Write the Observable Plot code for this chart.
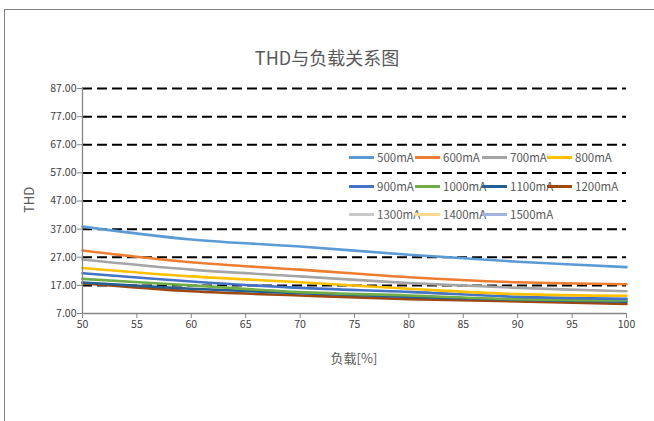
<!DOCTYPE html>
<html>
<head>
<meta charset="utf-8">
<script src="https://cdn.jsdelivr.net/npm/d3@7"></script>
<script src="https://cdn.jsdelivr.net/npm/@observablehq/plot@0.6"></script>
<style>
  html, body { margin: 0; padding: 0; background: #fff; }
  #wrap { position: relative; width: 654px; height: 421px; overflow: hidden;
          font-family: "Noto Sans CJK SC", "Noto Sans", sans-serif; color: #595959; }
  #frame { position: absolute; left: 4px; top: 9px; width: 660px; height: 430px;
           border-top: 1.5px solid #7f7f7f; border-left: 1.5px solid #7f7f7f; }
  #title { position: absolute; left: 0; width: 654px; top: 44px; text-align: center; font-size: 18px; }
  #xlabel { position: absolute; left: 82px; width: 544px; top: 348px; text-align: center; font-size: 13px; }
  #ylabel { position: absolute; left: 28px; top: 200px; font-size: 13px;
            transform: translate(-50%, -50%) rotate(-90deg); white-space: nowrap; }
  #chart { position: absolute; left: 0; top: 0; }
  #legend { position: absolute; left: 349px; top: 149px; width: 270px; font-size: 11.5px; }
  .item { position: absolute; display: flex; align-items: center; white-space: nowrap; }
  .sw { width: 25px; height: 3px; margin-right: 3px; }
</style>
</head>
<body>
<div id="wrap">
  <div id="frame"></div>
  <div id="chart"></div>
  <div id="title">THD与负载关系图</div>
  <div id="xlabel">负载[%]</div>
  <div id="ylabel">THD</div>
  <div id="legend"></div>
</div>
<script>
const loads = [50, 60, 70, 80, 90, 100];
const seriesNames = ["500mA","600mA","700mA","800mA","900mA","1000mA","1100mA","1200mA","1300mA","1400mA","1500mA"];
const seriesColors = ["#5B9BD5","#ED7D31","#A5A5A5","#FFC000","#4472C4","#70AD47","#255E91","#9E480E","#C9C9C9","#FFD98F","#A3B3E0"];
const thd500mA  = [37.9, 33.3, 30.8, 27.9, 25.4, 23.5];
const thd600mA  = [29.4, 25.2, 22.6, 19.9, 18.1, 17.4];
const thd700mA  = [26.2, 22.6, 20.2, 17.8, 16.1, 14.9];
const thd800mA  = [23.2, 20.2, 18.1, 15.8, 13.9, 13.3];
const thd900mA  = [21.3, 18.4, 16.1, 14.7, 12.9, 12.2];
const thd1000mA = [19.3, 17.0, 14.6, 13.4, 12.1, 11.6];
const thd1100mA = [18.0, 15.8, 14.2, 12.9, 11.9, 11.2];
const thd1200mA = [17.8, 14.9, 13.4, 12.1, 11.3, 10.4];
const thd1300mA = [];
const thd1400mA = [];
const thd1500mA = [];
const xTicks = [50, 55, 60, 65, 70, 75, 80, 85, 90, 95, 100];
const yTicks = [7, 17, 27, 37, 47, 57, 67, 77, 87];
const gridValues = [17, 27, 37, 47, 57, 67, 77, 87];

const allSeries = [thd500mA, thd600mA, thd700mA, thd800mA, thd900mA, thd1000mA, thd1100mA, thd1200mA, thd1300mA, thd1400mA, thd1500mA];
const data = [];
allSeries.forEach((vals, i) => vals.forEach((v, j) => data.push({series: seriesNames[i], load: loads[j], thd: v})));
const drawOrder = seriesNames.slice().reverse();

const axisColor = "#868686";
const chart = Plot.plot({
  width: 654, height: 421,
  marginLeft: 82, marginRight: 28, marginTop: 88, marginBottom: 108,
  style: {fontFamily: '"Noto Sans CJK SC", "Noto Sans", sans-serif', fontSize: "10.5px", color: "#595959", background: "transparent"},
  x: {domain: [50, 100]},
  y: {domain: [7, 87]},
  color: {domain: seriesNames, range: seriesColors},
  marks: [
    Plot.ruleY(gridValues, {stroke: "#000", strokeWidth: 2, strokeDasharray: "10,5"}),
    ...drawOrder.map(name => Plot.line(data.filter(d => d.series === name),
      {x: "load", y: "thd", stroke: "series", strokeWidth: 2.6, curve: "catmull-rom"})),
    Plot.ruleX([50], {stroke: axisColor, strokeWidth: 1.3}),
    Plot.ruleY([7], {stroke: axisColor, strokeWidth: 1.3}),
    Plot.axisX({ticks: xTicks, tickSize: 5, tickPadding: 2, stroke: axisColor, label: null, fill: "#404040"}),
    Plot.axisY({ticks: yTicks, tickSize: 5, tickPadding: 1, stroke: axisColor, label: null, fill: "#404040",
                tickFormat: d => d.toFixed(2)})
  ]
});
document.getElementById("chart").appendChild(chart);

const legend = document.getElementById("legend");
const colX = [0, 66, 133, 198];
const rowY = [0, 29, 57];
seriesNames.forEach((name, i) => {
  const it = document.createElement("div");
  it.className = "item";
  it.style.left = colX[i % 4] + "px";
  it.style.top = rowY[Math.floor(i / 4)] + "px";
  const sw = document.createElement("div");
  sw.className = "sw";
  sw.style.background = seriesColors[i];
  const tx = document.createElement("span");
  tx.textContent = name;
  it.appendChild(sw); it.appendChild(tx);
  legend.appendChild(it);
});
</script>
</body>
</html>
